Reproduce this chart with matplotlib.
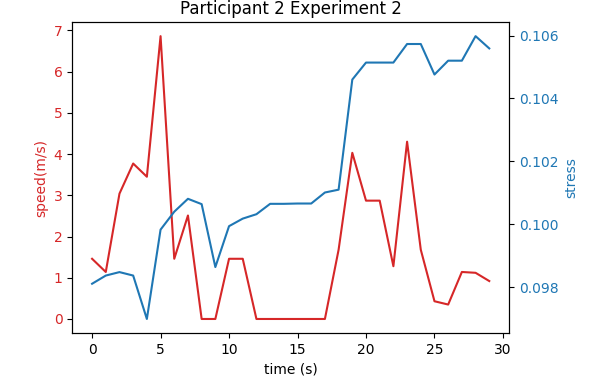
import numpy as np
import matplotlib
matplotlib.use("Agg")
import matplotlib.pyplot as plt

time_s = np.arange(30)
speed = [1.46, 1.14, 3.04, 3.77, 3.45, 6.86, 1.46, 2.51, 0.0, 0.0,
         1.46, 1.46, 0.0, 0.0, 0.0, 0.0, 0.0, 0.0, 1.68, 4.03,
         2.87, 2.87, 1.28, 4.30, 1.68, 0.43, 0.35, 1.14, 1.12, 0.92]
stress = [0.09811, 0.09837, 0.09848, 0.09837, 0.09699, 0.09983, 0.10040, 0.10081, 0.10064, 0.09864,
          0.09994, 0.10018, 0.10032, 0.10065, 0.10065, 0.10066, 0.10066, 0.10101, 0.10110, 0.10460,
          0.10514, 0.10514, 0.10514, 0.10573, 0.10573, 0.10476, 0.10520, 0.10520, 0.10598, 0.10559]

fig, ax1 = plt.subplots(figsize=(5.92, 3.86), dpi=100)
fig.subplots_adjust(left=0.122, right=0.860, top=0.943, bottom=0.137)

color = 'tab:red'
ax1.set_xlabel('time (s)')
ax1.set_ylabel('speed(m/s)', color=color)
ax1.plot(time_s, speed, color=color)
ax1.tick_params(axis='y', labelcolor=color)

ax2 = ax1.twinx()
color = 'tab:blue'
ax2.set_ylabel('stress', color=color)
ax2.plot(time_s, stress, color=color)
ax2.tick_params(axis='y', labelcolor=color)

ax1.set_title('Participant 2 Experiment 2')

fig.savefig('out.png')
